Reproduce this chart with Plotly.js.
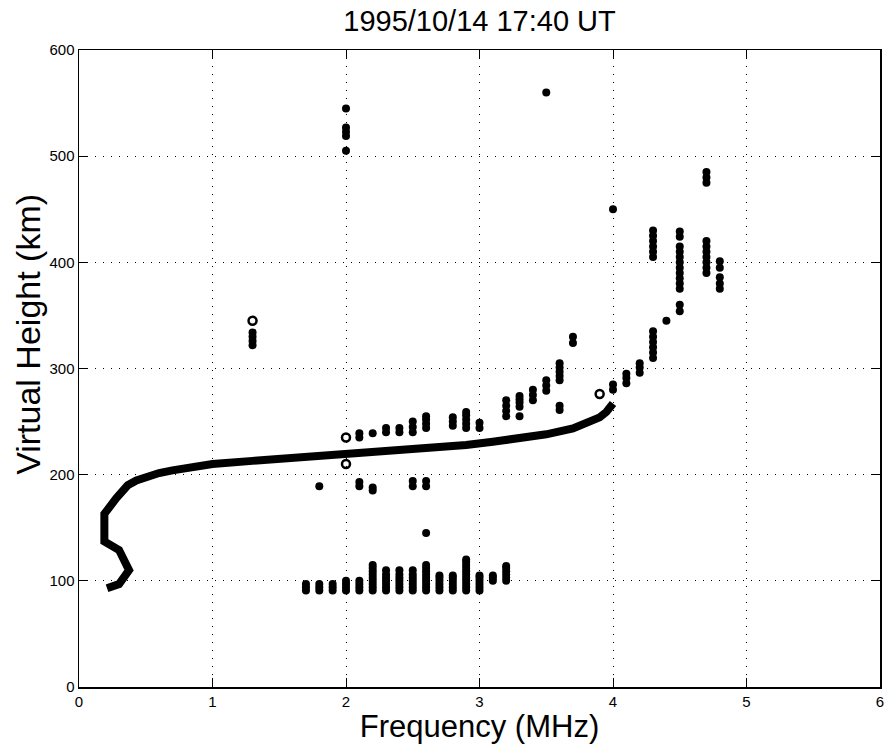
<!DOCTYPE html>
<html>
<head>
<meta charset="utf-8">
<script src="https://cdn.plot.ly/plotly-3.0.1.min.js"></script>
<style>
  html, body { margin: 0; padding: 0; background: #fff; }
  #chart { width: 886px; height: 745px; }
</style>
</head>
<body>
<div id="chart"></div>
<script>
// ---- Data ----
const titleText = "1995/10/14 17:40 UT";
const xTitle = "Frequency (MHz)";
const yTitle = "Virtual Height (km)";
const xTicks = [0, 1, 2, 3, 4, 5, 6];
const yTicks = [0, 100, 200, 300, 400, 500, 600];

// Inverted true-height profile (thick curve)
const profileFreq = [0.21, 0.30, 0.375, 0.30, 0.19, 0.19, 0.28, 0.365, 0.43, 0.5, 0.6, 0.7, 0.85, 1.0, 1.3, 1.7, 2.0, 2.3, 2.6, 2.9, 3.1, 3.3, 3.5, 3.7, 3.8, 3.9, 3.95, 4.0];
const profileHeight = [93, 97, 110, 129, 137, 163, 178, 190, 194.5, 198, 201.5, 204, 207.5, 210, 213, 216.5, 219, 221.5, 224.5, 228, 231, 234, 238, 243.5, 248, 254, 259, 267];

// Echo traces: frequency columns and the virtual heights seen in each
const echoFreq = [1.3, 1.7, 1.8, 1.9, 2.0, 2.1, 2.2, 2.3, 2.4, 2.5, 2.6, 2.7, 2.8, 2.9, 3.0, 3.1, 3.2, 3.3, 3.4, 3.5, 3.6, 3.7, 4.0, 4.1, 4.2, 4.3, 4.4, 4.5, 4.7, 4.8];
const echoHeights = [
  [322, 326, 330, 334],
  [91, 94, 97],
  [91, 94, 97, 189],
  [91, 94, 97],
  [91, 94, 97, 100, 505, 519, 523, 527, 545],
  [91, 94, 97, 100, 189, 193, 235, 239],
  [91, 94, 97, 100, 103, 106, 109, 112, 115, 185, 188, 239],
  [91, 94, 97, 100, 103, 106, 110, 240, 244],
  [91, 94, 97, 100, 103, 106, 110, 240, 244],
  [91, 94, 97, 100, 103, 106, 110, 189, 194, 240, 245, 250],
  [91, 94, 97, 100, 103, 106, 109, 112, 115, 145, 189, 194, 244, 248, 252, 255],
  [91, 94, 97, 100, 103, 105],
  [91, 94, 97, 100, 103, 105, 246, 250, 254],
  [91, 94, 97, 100, 103, 106, 109, 112, 115, 118, 120, 244, 248, 252, 256, 259],
  [91, 94, 97, 100, 103, 105, 244, 249],
  [100, 103, 105],
  [100, 103, 106, 109, 112, 114, 255, 260, 265, 270],
  [255, 264, 268, 271, 274],
  [270, 275, 280],
  [279, 284, 289, 560],
  [261, 265, 289, 293, 297, 301, 305],
  [324, 330],
  [280, 285, 450],
  [286, 291, 295],
  [296, 301, 305],
  [310, 315, 320, 325, 330, 335, 405, 410, 415, 420, 425, 430],
  [345],
  [354, 360, 375, 380, 385, 390, 395, 400, 405, 410, 415, 424, 429],
  [390, 395, 400, 405, 410, 415, 420, 475, 480, 485],
  [375, 380, 386, 395, 401]
];
// Weak echoes drawn as open circles
const openFreq = [1.3, 2.0, 2.0, 3.9];
const openHeight = [345, 235, 210, 276];

// ---- Build traces ----
const echoX = [], echoY = [];
echoFreq.forEach((f, i) => echoHeights[i].forEach(h => { echoX.push(f); echoY.push(h); }));

const traces = [
  {
    x: profileFreq, y: profileHeight, type: 'scatter', mode: 'lines',
    line: { color: '#000', width: 8 }, showlegend: false
  },
  {
    x: echoX, y: echoY, type: 'scatter', mode: 'markers',
    marker: { symbol: 'circle', size: 8, color: '#000' }, showlegend: false
  },
  {
    x: openFreq, y: openHeight, type: 'scatter', mode: 'markers',
    marker: { symbol: 'circle-open', size: 8, color: '#000', line: { width: 2.5, color: '#000' } }, showlegend: false
  }
];

const fontFam = 'Liberation Sans, Arial, Helvetica, sans-serif';
const axisCommon = {
  showline: true, linecolor: '#000', linewidth: 1.5, mirror: 'ticks',
  ticks: 'inside', ticklen: 9, tickwidth: 1, tickcolor: '#000',
  showgrid: true, gridcolor: '#000', gridwidth: 1, griddash: '1px,7px',
  zeroline: false,
  tickfont: { family: fontFam, size: 15, color: '#000' }
};

const layout = {
  width: 886, height: 745,
  margin: { l: 79, r: 6, t: 50, b: 58 },
  paper_bgcolor: '#fff', plot_bgcolor: '#fff',
  font: { family: fontFam, color: '#000' },
  title: {
    text: titleText, font: { family: fontFam, size: 29, color: '#000' },
    x: 0.5, xref: 'paper', xanchor: 'center', y: 0.972, yref: 'container', yanchor: 'middle'
  },
  xaxis: Object.assign({}, axisCommon, {
    range: [0, 6], tickvals: xTicks, ticktext: xTicks.map(String),
    title: { text: xTitle, font: { family: fontFam, size: 31, color: '#000' }, standoff: 1 }
  }),
  yaxis: Object.assign({}, axisCommon, {
    range: [0, 600], tickvals: yTicks, ticktext: yTicks.map(String)
  }),
  annotations: [{
    text: yTitle, textangle: -90, showarrow: false,
    xref: 'paper', yref: 'paper', x: -0.064, y: 0.554,
    xanchor: 'center', yanchor: 'middle',
    font: { family: fontFam, size: 34, color: '#000' }
  }],
  showlegend: false
};

Plotly.newPlot('chart', traces, layout, { displayModeBar: false, staticPlot: true });
</script>
</body>
</html>
